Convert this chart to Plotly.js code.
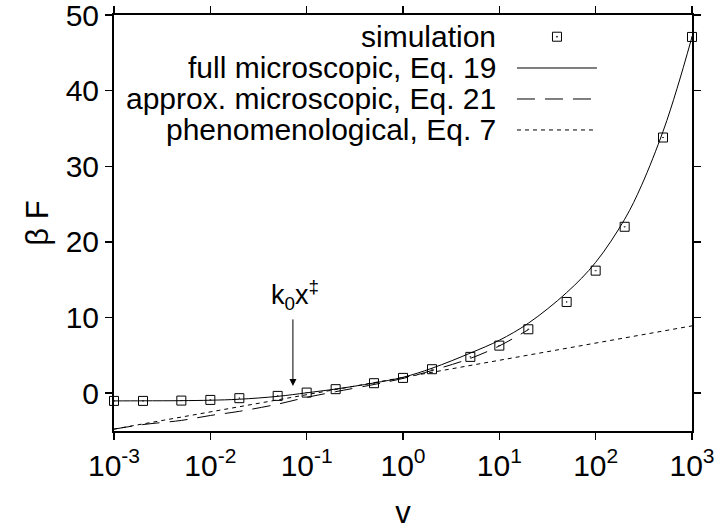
<!DOCTYPE html>
<html>
<head>
<meta charset="utf-8">
<script src="https://cdn.plot.ly/plotly-3.0.1.min.js"></script>
<style>html,body{margin:0;padding:0;background:#fff;}#chart{width:720px;height:530px;}</style>
</head>
<body>
<div id="chart"></div>
<script>
// ---- data ----
const vSim = [0.001,0.002,0.005,0.01,0.02,0.05,0.1,0.2,0.5,1,2,5,10,20,50,100,200,500,1000];
const fSim = [-1.02,-1.02,-0.98,-0.89,-0.66,-0.36,0.08,0.53,1.32,2.02,3.17,4.8,6.29,8.45,12.06,16.2,22.0,33.8,47.1];

const vFull = [0.001,0.002,0.005,0.01,0.02,0.05,0.1,0.2,0.5,1,2,5,10,20,50,100,200,300,500,700,1000];
const fFull = [-1.02,-1.01,-0.99,-0.93,-0.8,-0.42,0.05,0.55,1.35,2.1,3.3,5.3,7.0,9.25,13.3,17.3,23.0,27.5,34.6,40.3,47.1];

const vApprox = [0.001,0.002,0.005,0.01,0.02,0.05,0.1,0.2,0.5,1,2,5,10,20];
const fApprox = [-4.75,-4.15,-3.6,-2.95,-2.4,-1.45,-0.55,0.2,1.15,1.95,3.0,4.6,6.25,8.4];

const vPhen = [0.001,0.01,0.1,1,10,100,1000];
const fPhen = [-4.75,-2.47,-0.2,2.05,4.35,6.62,8.9];

const xTickVals = [0.001,0.01,0.1,1,10,100,1000];
const xTickText = ['10<sup>-3</sup>','10<sup>-2</sup>','10<sup>-1</sup>','10<sup>0</sup>','10<sup>1</sup>','10<sup>2</sup>','10<sup>3</sup>'];
const yTickVals = [0,10,20,30,40,50];

const legendNames = ['simulation','full microscopic, Eq. 19','approx. microscopic, Eq. 21','phenomenological, Eq. 7'];

// annotation arrow: k0 x‡ marker
const arrowV = 0.072, arrowTip = 0.96, arrowTail = 9.95, labelV = 0.076, labelY = 13.0;

const FONT = 'Liberation Sans, Arial, Helvetica, sans-serif';
const dashLong = '18px,10px';
const dashShort = '4px,4px';

const traces = [
  {x: vFull, y: fFull, mode: 'lines', line: {color: '#000', width: 1, shape: 'spline'}, showlegend: false},
  {x: vApprox, y: fApprox, mode: 'lines', line: {color: '#000', width: 1, dash: dashLong, shape: 'spline'}, showlegend: false},
  {x: vPhen, y: fPhen, mode: 'lines', line: {color: '#000', width: 1, dash: dashShort}, showlegend: false},
  {x: vSim, y: fSim, mode: 'markers', cliponaxis: false,
   marker: {symbol: 'square-open-dot', size: 9, color: '#000', line: {width: 1, color: '#000'}}, showlegend: false}
];

// custom legend (text on left, key on right, as in the reference)
const rowsY = [0.9478, 0.8726, 0.7981, 0.7236];
const textX = 0.664, keyX0 = 0.6972, keyX1 = 0.8356, keyXc = 0.7664;
const annotations = legendNames.map((n, i) => ({
  xref: 'paper', yref: 'paper', x: textX, y: rowsY[i], xanchor: 'right', yanchor: 'middle',
  text: n, showarrow: false, font: {family: FONT, size: 30, color: '#000'}
}));
annotations.push({
  x: Math.log10(arrowV), y: arrowTip, ax: Math.log10(arrowV), ay: arrowTail, axref: 'x', ayref: 'y',
  xref: 'x', yref: 'y', showarrow: true, arrowhead: 2, arrowsize: 1.4, arrowwidth: 1, arrowcolor: '#000', text: ''
});
annotations.push({
  x: Math.log10(labelV), y: labelY, xref: 'x', yref: 'y', showarrow: false,
  text: 'k<sub>0</sub>x<sup>‡</sup>', font: {family: FONT, size: 27, color: '#000'}, xanchor: 'center', yanchor: 'middle'
});

const shapes = [
  {type: 'rect', xref: 'paper', yref: 'paper', xsizemode: 'pixel', ysizemode: 'pixel',
   xanchor: keyXc, yanchor: rowsY[0], x0: -4.5, x1: 4.5, y0: -4.5, y1: 4.5, line: {color: '#000', width: 1}},
  {type: 'circle', xref: 'paper', yref: 'paper', xsizemode: 'pixel', ysizemode: 'pixel',
   xanchor: keyXc, yanchor: rowsY[0], x0: -0.6, x1: 0.6, y0: -0.6, y1: 0.6, line: {color: '#000', width: 0.5}, fillcolor: '#000'},
  {type: 'line', xref: 'paper', yref: 'paper', x0: keyX0, x1: keyX1, y0: rowsY[1], y1: rowsY[1], line: {color: '#000', width: 1}},
  {type: 'line', xref: 'paper', yref: 'paper', x0: keyX0, x1: keyX1, y0: rowsY[2], y1: rowsY[2], line: {color: '#000', width: 1, dash: dashLong}},
  {type: 'line', xref: 'paper', yref: 'paper', x0: keyX0, x1: keyX1, y0: rowsY[3], y1: rowsY[3], line: {color: '#000', width: 1, dash: dashShort}}
];

const layout = {
  width: 720, height: 530,
  margin: {l: 114, r: 28, t: 15, b: 99, pad: 0},
  paper_bgcolor: '#fff', plot_bgcolor: '#fff',
  font: {family: FONT, size: 30, color: '#000'},
  showlegend: false,
  xaxis: {
    type: 'log', range: [-3, 3], tickvals: xTickVals, ticktext: xTickText,
    ticks: 'outside', ticklen: 7, tickwidth: 1.5, tickcolor: '#000',
    showline: true, linecolor: '#000', linewidth: 2, mirror: 'ticks',
    showgrid: false, zeroline: false, tickfont: {family: FONT, size: 30},
    ticklabeloverflow: 'allow',
    title: {text: 'v', font: {family: FONT, size: 31}, standoff: 20}
  },
  yaxis: {
    range: [-5, 50], tickvals: yTickVals, ticksuffix: '\u00a0',
    ticks: 'outside', ticklen: 7, tickwidth: 1.5, tickcolor: '#000',
    showline: true, linecolor: '#000', linewidth: 2, mirror: 'ticks',
    showgrid: false, zeroline: false, tickfont: {family: FONT, size: 30},
    ticklabeloverflow: 'allow',
    title: {text: 'β F', font: {family: FONT, size: 31}, standoff: 8}
  },
  annotations: annotations,
  shapes: shapes
};

Plotly.newPlot('chart', traces, layout, {displayModeBar: false, staticPlot: true});
</script>
</body>
</html>
